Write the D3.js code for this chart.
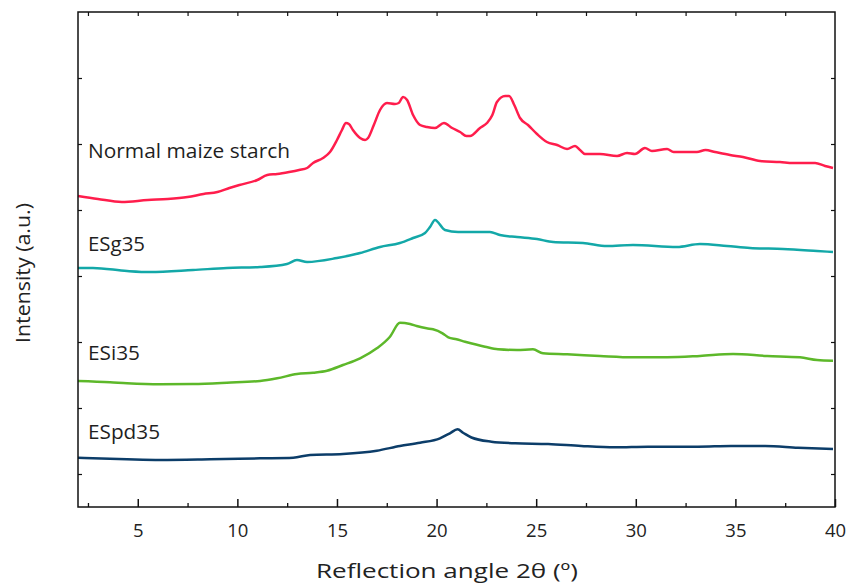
<!DOCTYPE html>
<html>
<head>
<meta charset="utf-8">
<script src="https://cdn.jsdelivr.net/npm/d3@7/dist/d3.min.js"></script>
<style>
  html, body { margin: 0; padding: 0; background: #fff; }
  svg { display: block; font-family: "Open Sans", "Noto Sans", sans-serif; }
</style>
</head>
<body>
<svg id="chart" width="847" height="586"></svg>
<script>
// XRD patterns: [2θ (°), intensity (a.u., stacked offsets included)]
const normalMaize = [
  [2.0, 311], [3.0, 308], [4.2, 305], [5.5, 307], [6.5, 308], [7.5, 310], [8.3, 313],
  [9.0, 315], [9.6, 319], [10.1, 322], [11.0, 327], [11.5, 332], [12.0, 333], [12.6, 335],
  [13.1, 337], [13.5, 339], [13.8, 344], [14.3, 349], [14.65, 355], [15.0, 367],
  [15.25, 377], [15.45, 384], [15.6, 383], [15.8, 377], [16.16, 369], [16.41, 367],
  [16.56, 369], [16.85, 382], [17.16, 397], [17.51, 404], [17.91, 403], [18.1, 404],
  [18.32, 410], [18.52, 407], [18.82, 392], [19.17, 382], [19.52, 380], [19.92, 379],
  [20.37, 384], [20.78, 379], [21.18, 375], [21.5, 371], [21.68, 371], [22.18, 379],
  [22.53, 384], [22.8, 392], [23.03, 405], [23.44, 411], [23.64, 411], [23.9, 402],
  [24.19, 389], [24.59, 382], [25.04, 373], [25.54, 365], [26.05, 362], [26.55, 358],
  [26.95, 361], [27.2, 357], [27.45, 353], [28.2, 353], [29.06, 351], [29.56, 354],
  [29.96, 353], [30.46, 359], [30.81, 356], [31.57, 358], [31.9, 355], [32.37, 355],
  [33.07, 355], [33.5, 357], [33.98, 355], [34.73, 352], [35.38, 350], [36.24, 346],
  [37.24, 345], [37.89, 344], [39.0, 344], [39.5, 341], [39.9, 339]
];
const esg35 = [
  [2.0, 239], [2.75, 239], [4.46, 236], [5.61, 235], [7.77, 237], [9.48, 239],
  [11.14, 240], [12.49, 243], [12.99, 247], [13.5, 245], [15.0, 249], [16.16, 254],
  [17.16, 260], [18.16, 264], [18.82, 269], [19.42, 274], [19.67, 280], [19.92, 287],
  [20.42, 277], [21.08, 275], [22.03, 275], [22.68, 275], [23.18, 272], [24.04, 270],
  [25.04, 268], [25.85, 265], [27.35, 264], [28.56, 261], [29.86, 262], [32.07, 260],
  [33.22, 263], [34.58, 261], [35.73, 259], [37.39, 258], [39.1, 256], [39.9, 255]
];
const esi35 = [
  [2.0, 126], [3.61, 124.7], [4.46, 123.7], [6.12, 122.7], [7.77, 123], [9.48, 124.3],
  [11.14, 126], [12.0, 128.7], [12.99, 133], [13.8, 134.3], [14.5, 136.3], [15.3, 142],
  [16.16, 148.7], [17.0, 158.7], [17.66, 170.3], [18.16, 184.3], [18.67, 183],
  [19.0, 181], [19.5, 178.7], [19.82, 177.7], [20.3, 173.7], [20.59, 169.7],
  [21.0, 167.7], [21.43, 165.3], [22.43, 160.3], [23.08, 157.7], [24.04, 157],
  [24.84, 157.7], [25.34, 153.7], [26.55, 152.7], [28.2, 151], [29.86, 149.7],
  [31.57, 149.7], [33.22, 151], [34.88, 153], [36.59, 151], [38.24, 149.7],
  [39.1, 147], [39.9, 146.3]
];
const espd35 = [
  [2.0, 49.3], [4.46, 47.7], [6.12, 47], [8.63, 47.7], [11.14, 48.7], [12.8, 49.3],
  [13.65, 52], [15.3, 53], [17.0, 56.3], [18.16, 61], [19.17, 64.3],
  [20.17, 68.7], [20.67, 73.7], [21.05, 77.7], [21.35, 74],
  [21.75, 69.5], [22.75, 65.3], [23.95, 63.7], [25.6, 63], [27.26, 61], [28.96, 59.7],
  [30.61, 60.3], [33.12, 60.3], [34.78, 61], [36.49, 61], [38.14, 59.3], [39.9, 58]
];

const seriesNames = ["Normal maize starch", "ESg35", "ESi35", "ESpd35"];
const seriesColors = ["#ff1d4c", "#13a8a8", "#5db82a", "#0c3d69"];
const seriesData = [normalMaize, esg35, esi35, espd35];
const labelLevels = [349, 256, 147, 68];   // label baselines in intensity units
const labelWidths = [202, 57, 52, 72];

const xMajorTicks = [5, 10, 15, 20, 25, 30, 35, 40];
const xMinorTicks = [2.5, 7.5, 12.5, 17.5, 22.5, 27.5, 32.5, 37.5];
const yTicks = [33, 99, 165, 231, 297, 363, 429];

const mLeft = 78, mRight = 835, mTop = 12, mBottom = 507;
const svg = d3.select("#chart");

const x = d3.scaleLinear().domain([2, 40]).range([mLeft, mRight]);
const y = d3.scaleLinear().domain([0, 495]).range([mBottom, mTop]);

// Curves
const line = d3.line()
  .x(d => x(d[0]))
  .y(d => y(d[1]))
  .curve(d3.curveMonotoneX);

seriesData.forEach((s, i) => {
  svg.append("path")
    .datum(s)
    .attr("fill", "none")
    .attr("stroke", seriesColors[i])
    .attr("stroke-width", 2.5)
    .attr("stroke-linejoin", "round")
    .attr("d", line);
});

// Series labels
seriesNames.forEach((name, i) => {
  svg.append("text")
    .attr("x", 88)
    .attr("y", y(labelLevels[i]))
    .attr("font-size", 20)
    .attr("fill", "#1f1f1f")
    .attr("textLength", labelWidths[i])
    .attr("lengthAdjust", "spacingAndGlyphs")
    .text(name);
});

// Frame
svg.append("rect")
  .attr("x", mLeft).attr("y", mTop)
  .attr("width", mRight - mLeft).attr("height", mBottom - mTop)
  .attr("fill", "none")
  .attr("stroke", "#111")
  .attr("stroke-width", 1.5);

// Bottom axis: inward ticks
const xAxisMajor = d3.axisBottom(x).tickValues(xMajorTicks).tickSizeInner(-8).tickSizeOuter(0).tickPadding(17)
  .tickFormat(d3.format("d"));
const gx = svg.append("g").attr("transform", `translate(0,${mBottom})`).call(xAxisMajor);
gx.select(".domain").remove();
gx.selectAll(".tick line").attr("stroke", "#111").attr("stroke-width", 1.5);
gx.selectAll(".tick text").attr("font-size", 18.5).attr("fill", "#222")
  .attr("font-family", "'Open Sans', sans-serif");

const xAxisMinor = d3.axisBottom(x).tickValues(xMinorTicks).tickSizeInner(-4).tickSizeOuter(0).tickFormat("");
const gxm = svg.append("g").attr("transform", `translate(0,${mBottom})`).call(xAxisMinor);
gxm.select(".domain").remove();
gxm.selectAll(".tick line").attr("stroke", "#111").attr("stroke-width", 1.3);

// Top axis: small inward ticks
const xTop = d3.axisTop(x).tickValues(xMinorTicks.concat(xMajorTicks.slice(0, -1))).tickSizeInner(-4).tickSizeOuter(0).tickFormat("");
const gt = svg.append("g").attr("transform", `translate(0,${mTop})`).call(xTop);
gt.select(".domain").remove();
gt.selectAll(".tick line").attr("stroke", "#111").attr("stroke-width", 1.2);

// Left and right axes: small inward ticks, no labels
const yLeft = d3.axisLeft(y).tickValues(yTicks).tickSizeInner(-4).tickSizeOuter(0).tickFormat("");
const gl = svg.append("g").attr("transform", `translate(${mLeft},0)`).call(yLeft);
gl.select(".domain").remove();
gl.selectAll(".tick line").attr("stroke", "#111").attr("stroke-width", 1.2);

const yRight = d3.axisRight(y).tickValues(yTicks).tickSizeInner(-4).tickSizeOuter(0).tickFormat("");
const gr = svg.append("g").attr("transform", `translate(${mRight},0)`).call(yRight);
gr.select(".domain").remove();
gr.selectAll(".tick line").attr("stroke", "#111").attr("stroke-width", 1.2);

// Axis titles
svg.append("text")
  .attr("x", 316)
  .attr("y", 578)
  .attr("font-size", 20.5)
  .attr("fill", "#222")
  .attr("textLength", 262)
  .attr("lengthAdjust", "spacingAndGlyphs")
  .text("Reflection angle 2θ (º)");

svg.append("text")
  .attr("transform", `translate(30,343) rotate(-90)`)
  .attr("font-size", 20.5)
  .attr("fill", "#222")
  .attr("textLength", 140)
  .attr("lengthAdjust", "spacingAndGlyphs")
  .text("Intensity (a.u.)");
</script>
</body>
</html>
